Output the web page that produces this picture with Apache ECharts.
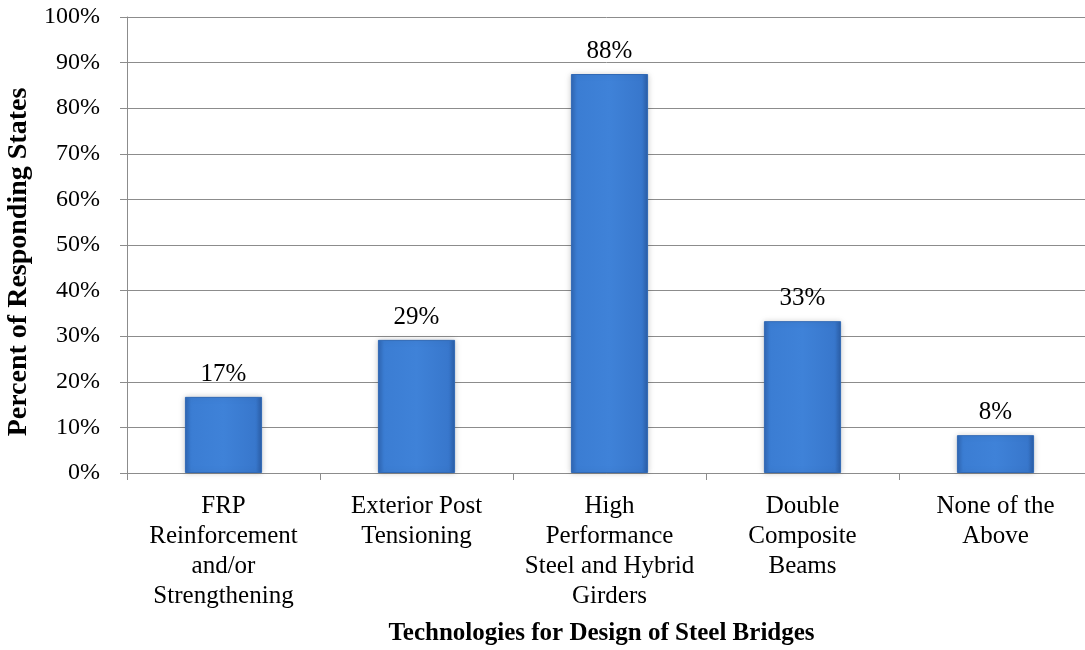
<!DOCTYPE html>
<html><head><meta charset="utf-8">
<script src="https://cdn.jsdelivr.net/npm/echarts@6/dist/echarts.min.js"></script>
<style>html,body{margin:0;padding:0;background:#fff}#c{width:1085px;height:650px}</style>
</head><body><div id="c"></div>
<script>
var categories = ['FRP\nReinforcement\nand/or\nStrengthening', 'Exterior Post\nTensioning', 'High\nPerformance\nSteel and Hybrid\nGirders', 'Double\nComposite\nBeams', 'None of the\nAbove'];
var values = [16.7, 29.2, 87.5, 33.3, 8.3];
var yTicks = [0, 10, 20, 30, 40, 50, 60, 70, 80, 90, 100];
var xTitle = 'Technologies for Design of Steel Bridges';
var yTitle = 'Percent of Responding States';

var font = '"Liberation Serif", "Times New Roman", serif';
var chart = echarts.init(document.getElementById('c'));
chart.setOption({
  animation: false,
  grid: {left: 127, right: -7, top: 17, bottom: 177, outerBoundsMode: 'none', containLabel: false},
  xAxis: {
    type: 'category', data: categories,
    name: xTitle, nameLocation: 'middle', nameGap: 148,
    nameTextStyle: {fontFamily: font, fontSize: 25, fontWeight: 'bold', color: '#000', padding: [0, 16, 0, 0]},
    axisLine: {lineStyle: {color: '#8c8c8c', width: 1}},
    axisTick: {show: true, alignWithLabel: false, length: 7, lineStyle: {color: '#8c8c8c'}},
    axisLabel: {fontFamily: font, fontSize: 25, color: '#000', lineHeight: 30, margin: 18, interval: 0}
  },
  yAxis: {
    type: 'value', min: 0, max: 100, interval: 10,
    name: yTitle, nameLocation: 'middle', nameGap: 91, nameRotate: 90,
    nameTextStyle: {fontFamily: font, fontSize: 28, fontWeight: 'bold', color: '#000', padding: [0, 34, 0, 0]},
    axisLine: {show: true, lineStyle: {color: '#8c8c8c'}},
    axisTick: {show: true, length: 7, lineStyle: {color: '#8c8c8c'}},
    splitLine: {lineStyle: {color: '#8c8c8c', width: 1}},
    axisLabel: {fontFamily: font, fontSize: 24, color: '#000', margin: 27,
      formatter: function(v){ return yTicks.indexOf(v) >= 0 ? v + '%' : ''; }}
  },
  series: [{
    type: 'bar', data: values, barWidth: '40%',
    itemStyle: {
      color: new echarts.graphic.LinearGradient(0, 0, 1, 0, [
        {offset: 0, color: '#2f66b3'},
        {offset: 0.08, color: '#3b7dd3'},
        {offset: 0.5, color: '#3f82d8'},
        {offset: 0.92, color: '#3877cc'},
        {offset: 1, color: '#2a5da6'}
      ]),
      borderColor: '#3169b5', borderWidth: 1,
      shadowColor: 'rgba(0,0,0,0.18)', shadowBlur: 6, shadowOffsetX: 0, shadowOffsetY: 0
    },
    label: {show: true, position: 'top', distance: 10, fontFamily: font, fontSize: 25, color: '#000',
      formatter: function(p){ return Math.round(p.value) + '%'; }}
  }]
});
</script></body></html>
